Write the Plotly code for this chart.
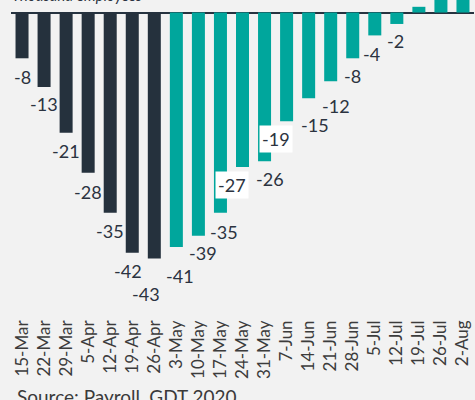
import plotly.graph_objects as go

# ---- data ----
weeks = ["15-Mar", "22-Mar", "29-Mar", "5-Apr", "12-Apr", "19-Apr", "26-Apr",
         "3-May", "10-May", "17-May", "24-May", "31-May", "7-Jun", "14-Jun",
         "21-Jun", "28-Jun", "5-Jul", "12-Jul", "19-Jul", "26-Jul", "2-Aug"]
change = [-8, -13, -21, -28, -35, -42, -43,
          -41, -39, -35, -27, -26, -19, -15,
          -12, -8, -4, -2, 1, 3, 4]
n_dark = 7  # Mar-Apr weeks drawn dark, from May teal

# ---- label placement tweaks (pixels), style only ----
label_dx = [0, 0, 0, 0, 0, -4, -8, 4, 5, 4, -11, 5, -11, 6, 5, 0, -3, -1, 0, 0, 0]
label_dy = [19, 17, 18, 19, 18, 18, 35, 29, 17, 19, 18, 18, 18, 27, 25, 18, 19, 17.5, 0, 0, 0]
label_boxed = {"24-May", "7-Jun"}

DARK = "#25313d"
TEAL = "#00a69c"
BG = "#f2f2f2"
TXT = "#2b3340"
FONT = "Lato"

colors = [DARK if i < n_dark else TEAL for i in range(len(weeks))]

fig = go.Figure()
fig.add_trace(go.Bar(x=weeks, y=change, marker=dict(color=colors, line=dict(width=0)),
                     width=0.59, hoverinfo="x+y"))

annotations = []
for i, (w, v) in enumerate(zip(weeks, change)):
    if v >= 0:
        continue  # positive bar labels fall above the visible frame
    annotations.append(dict(
        x=w, y=v, xref="x", yref="y", text=str(v), showarrow=False,
        xanchor="center", yanchor="middle",
        xshift=label_dx[i], yshift=-label_dy[i],
        font=dict(family=FONT, size=18, color=TXT),
        bgcolor="white" if w in label_boxed else "rgba(0,0,0,0)",
        borderpad=2,
    ))

annotations.append(dict(
    x=0, y=1, xref="paper", yref="paper", xanchor="left", yanchor="bottom",
    text="<i>Thousand employees</i>", showarrow=False, xshift=-1, yshift=-6,
    font=dict(family=FONT, size=15, color=TXT),
))
annotations.append(dict(
    x=0, y=0, xref="paper", yref="paper", xanchor="left", yanchor="top",
    text="Source: Payroll, GDT 2020", showarrow=False, xshift=4, yshift=-77,
    font=dict(family=FONT, size=19, color="#3a3a3a"),
))

fig.update_layout(
    width=475, height=400,
    margin=dict(l=11, r=1, t=0, b=94, autoexpand=False),
    paper_bgcolor=BG, plot_bgcolor=BG,
    showlegend=False,
    annotations=annotations,
    bargap=0.41,
)
fig.update_xaxes(
    type="category", tickangle=-90, showgrid=False, showline=False, ticks="",
    tickfont=dict(family=FONT, size=17, color="#3c3c3c"), automargin=False,
    ticklabelstandoff=10,
    range=[-0.5, len(weeks) - 0.5],
)
fig.update_yaxes(
    range=[-51.3, 2.19], showgrid=False, showticklabels=False, automargin=False,
    zeroline=True, zerolinecolor="#263340", zerolinewidth=2,
)

fig.write_html(
    "out.html",
    config={"displayModeBar": False},
    post_script="document.body.style.margin='0';document.body.style.background='#f2f2f2';",
)
